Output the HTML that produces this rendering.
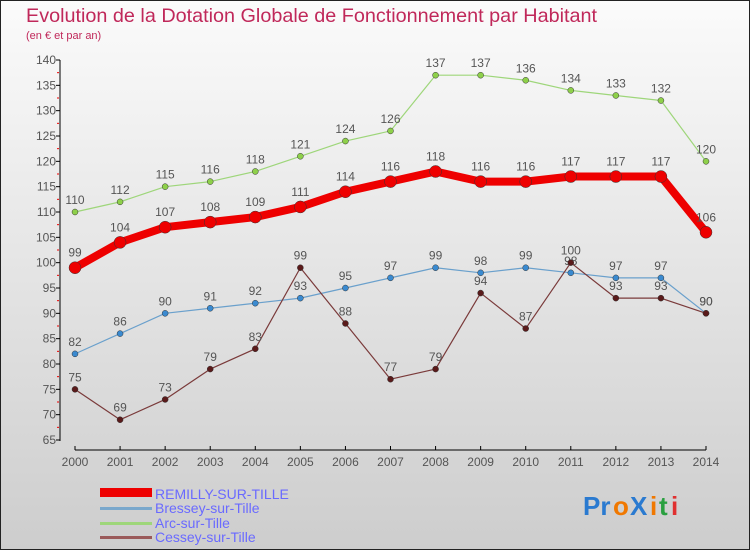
<!DOCTYPE html>
<html><head><meta charset="utf-8"><style>
html,body{margin:0;padding:0}
body{width:750px;height:550px;overflow:hidden;font-family:"Liberation Sans",sans-serif}
</style></head><body>
<svg id="chart" width="750" height="550" xmlns="http://www.w3.org/2000/svg">
<defs><linearGradient id="bg" x1="0" y1="0" x2="0" y2="1"><stop offset="0" stop-color="#fbfbfb"/><stop offset="1" stop-color="#cdcdcd"/></linearGradient></defs>
<rect x="0.5" y="0.5" width="749" height="549" fill="url(#bg)" stroke="#222"/>
<text x="26" y="22" font-size="19.5" textLength="571" lengthAdjust="spacingAndGlyphs" fill="#c0285a">Evolution de la Dotation Globale de Fonctionnement par Habitant</text>
<text x="26" y="39" font-size="11" fill="#c0285a">(en € et par an)</text>
<g id="axes"></g><g id="series"></g>
<g>
<rect x="100" y="488" width="52" height="9" fill="#e00"/>
<text x="155" y="499" font-size="14" fill="#6a6aff">REMILLY-SUR-TILLE</text>
<rect x="100" y="507" width="52" height="3" fill="#7aa8cc"/>
<text x="155" y="513" font-size="14" fill="#6a6aff">Bressey-sur-Tille</text>
<rect x="100" y="522" width="52" height="3" fill="#9ed67a"/>
<text x="155" y="528" font-size="14" fill="#6a6aff">Arc-sur-Tille</text>
<rect x="100" y="536" width="52" height="3" fill="#9a5a5a"/>
<text x="155" y="542" font-size="14" fill="#6a6aff">Cessey-sur-Tille</text>
</g>
<g font-size="26" font-weight="bold">
<text x="583" y="515" fill="#2a7ad0">Pr</text><text x="613" y="515" fill="#f07800">o</text><text x="630" y="515" fill="#2a7ad0">X</text><text x="650" y="515" fill="#f07800">i</text><text x="659" y="515" fill="#2aa040">t</text><text x="671" y="515" fill="#e03030">i</text>
</g>
</svg>
<script>
const years=[2000,2001,2002,2003,2004,2005,2006,2007,2008,2009,2010,2011,2012,2013,2014];
const yTicks=[65,70,75,80,85,90,95,100,105,110,115,120,125,130,135,140];
const remilly=[99,104,107,108,109,111,114,116,118,116,116,117,117,117,106];
const bressey=[82,86,90,91,92,93,95,97,99,98,99,98,97,97,90];
const arc=[110,112,115,116,118,121,124,126,137,137,136,134,133,132,120];
const cessey=[75,69,73,79,83,99,88,77,79,94,87,100,93,93,90];
const NS="http://www.w3.org/2000/svg";
const X0=75,X1=706,Y0=440,Y1=60,VMIN=65,VMAX=140;
const xs=i=>X0+(X1-X0)*i/(years.length-1);
const ys=v=>Y0-(v-VMIN)*(Y0-Y1)/(VMAX-VMIN);
function mk(t,a,p){const e=document.createElementNS(NS,t);for(const k in a)e.setAttribute(k,a[k]);p.appendChild(e);return e;}
const ax=document.getElementById('axes');
let l=mk('line',{x1:60,y1:60,x2:60,y2:441,stroke:'#000'},ax);


l=mk('line',{x1:75,y1:450,x2:706,y2:450,stroke:'#000'},ax);


yTicks.forEach(v=>{const y=ys(v);
 mk('line',{x1:56,y1:y,x2:60,y2:y,stroke:'#000'},ax);
 if(v<VMAX)mk('line',{x1:57,y1:ys(v+2.5),x2:59,y2:ys(v+2.5),stroke:'#e00'},ax);
 const t=mk('text',{x:56,y:y+4,'font-size':12,fill:'#555','text-anchor':'end'},ax);t.textContent=v;
 
 });
years.forEach((yr,i)=>{const x=xs(i);
 mk('line',{x1:x,y1:446,x2:x,y2:450,stroke:'#000'},ax);
 const t=mk('text',{x:x,y:466,'font-size':12,fill:'#555','text-anchor':'middle'},ax);t.textContent=yr;
 
 });
const sg=document.getElementById('series');
function series(data,name,color,w,r,dot){
 const g=mk('g',{},sg);
 
 
 mk('polyline',{points:data.map((v,i)=>xs(i)+','+ys(v)).join(' '),fill:'none',stroke:color,'stroke-width':w,'stroke-linejoin':'round'},g);
 data.forEach((v,i)=>{const c=mk('circle',{cx:xs(i),cy:ys(v),r:r,fill:dot,stroke:'#333','stroke-width':0.5},g);
  
  
  const t=mk('text',{x:xs(i),y:ys(v)-8-(r>4?3:0),'font-size':12,fill:'#555','text-anchor':'middle'},g);t.textContent=v;
  
  });
}
series(arc,'arc','#9ed67a',1.2,3,'#8ed04a');
series(bressey,'bressey','#6aa0cc',1.2,3,'#3a8ad0');
series(cessey,'cessey','#7a3a3a',1.2,3,'#5a1a1a');
series(remilly,'remilly','#e00',8,6,'#e00');
</script>
</body></html>
